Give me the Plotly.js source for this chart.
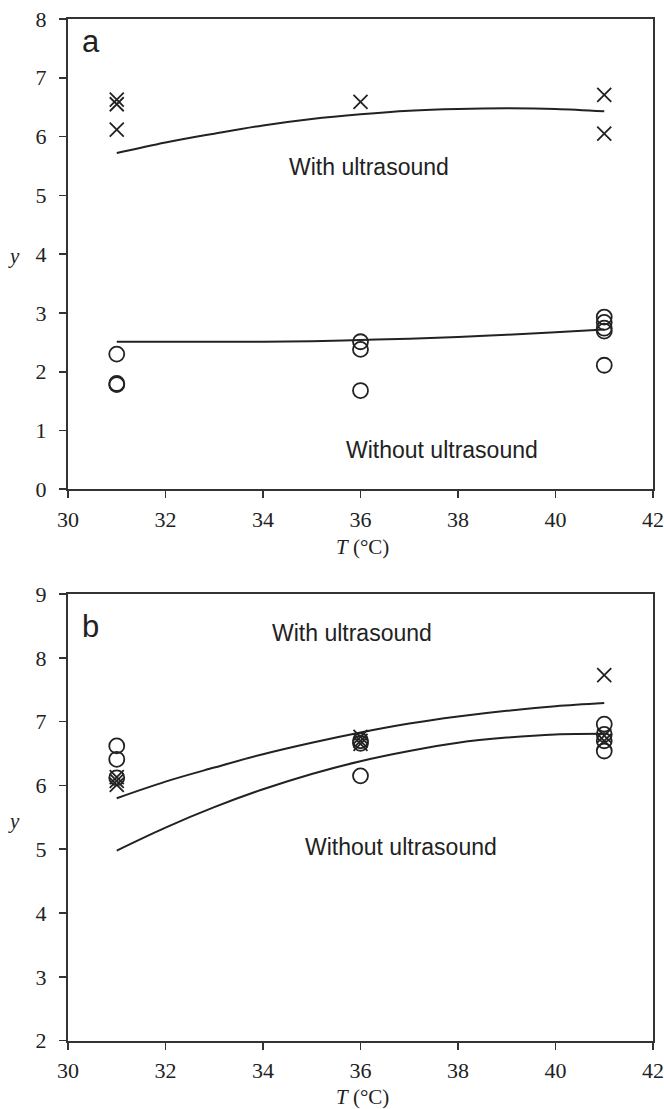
<!DOCTYPE html>
<html>
<head>
<meta charset="utf-8">
<script src="https://cdn.plot.ly/plotly-3.0.1.min.js"></script>
<style>html,body{margin:0;padding:0;background:#fff;}#chart{width:664px;height:1109px;}</style>
</head>
<body>
<div id="chart"></div>
<script>
// ---- Panel a data ----
const aWithT = [31, 31, 31, 36, 41, 41];
const aWithY = [6.63, 6.55, 6.12, 6.59, 6.71, 6.05];
const aWithoutT = [31, 31, 31, 36, 36, 36, 41, 41, 41, 41, 41];
const aWithoutY = [2.30, 1.80, 1.78, 2.51, 2.38, 1.68, 2.93, 2.84, 2.74, 2.69, 2.11];
const aFitT = [31, 32, 33, 34, 35, 36, 37, 38, 39, 40, 41];
const aFitWith = [5.72, 5.90, 6.05, 6.19, 6.30, 6.38, 6.44, 6.47, 6.48, 6.47, 6.43];
const aFitWithout = [2.51, 2.51, 2.51, 2.51, 2.52, 2.54, 2.56, 2.59, 2.63, 2.67, 2.72];

// ---- Panel b data ----
const bWithT = [31, 31, 31, 36, 36, 36, 41, 41, 41];
const bWithY = [6.13, 6.07, 6.01, 6.76, 6.70, 6.65, 7.73, 6.78, 6.70];
const bWithoutT = [31, 31, 31, 36, 36, 36, 41, 41, 41, 41];
const bWithoutY = [6.62, 6.41, 6.12, 6.70, 6.66, 6.15, 6.96, 6.80, 6.70, 6.54];
const bFitT = [31, 32, 33, 34, 35, 36, 37, 38, 39, 40, 41];
const bFitWith = [5.80, 6.06, 6.28, 6.49, 6.67, 6.83, 6.97, 7.08, 7.17, 7.24, 7.29];
const bFitWithout = [4.98, 5.34, 5.66, 5.94, 6.18, 6.38, 6.54, 6.67, 6.75, 6.80, 6.81];

const ink = '#222222';
const crossMarker = {symbol: 'x-thin-open', size: 14, color: ink, line: {color: ink, width: 1.8}};
const circleMarker = {symbol: 'circle-open', size: 15, color: ink, line: {color: ink, width: 1.8}};
const fitLine = {color: ink, width: 2, shape: 'spline'};

const traces = [
  {x: aFitT, y: aFitWith, mode: 'lines', line: fitLine, xaxis: 'x', yaxis: 'y'},
  {x: aFitT, y: aFitWithout, mode: 'lines', line: fitLine, xaxis: 'x', yaxis: 'y'},
  {x: aWithT, y: aWithY, mode: 'markers', marker: crossMarker, xaxis: 'x', yaxis: 'y'},
  {x: aWithoutT, y: aWithoutY, mode: 'markers', marker: circleMarker, xaxis: 'x', yaxis: 'y'},
  {x: bFitT, y: bFitWith, mode: 'lines', line: fitLine, xaxis: 'x2', yaxis: 'y2'},
  {x: bFitT, y: bFitWithout, mode: 'lines', line: fitLine, xaxis: 'x2', yaxis: 'y2'},
  {x: bWithoutT, y: bWithoutY, mode: 'markers', marker: circleMarker, xaxis: 'x2', yaxis: 'y2'},
  {x: bWithT, y: bWithY, mode: 'markers', marker: crossMarker, xaxis: 'x2', yaxis: 'y2'}
];
traces.forEach(t => { t.showlegend = false; t.hoverinfo = 'skip'; });

const W = 664, H = 1109;
const serif = 'Liberation Serif';
const sans = 'Liberation Sans';
function tickFont() { return {family: serif, size: 22, color: '#222222'}; }
function xAxis(anchor) {
  return {
    domain: [68 / W, 653 / W], anchor: anchor, range: [30, 42], dtick: 2, tick0: 30,
    showgrid: false, zeroline: false, showline: true, mirror: true, linecolor: '#333', linewidth: 2,
    ticks: 'outside', ticklen: 7, tickwidth: 1.6, tickcolor: '#333', tickfont: tickFont(), ticklabelstandoff: 2
  };
}
function yAxis(anchor, domain, range) {
  return {
    domain: domain, anchor: anchor, range: range, dtick: 1,
    showgrid: false, zeroline: false, showline: true, mirror: true, linecolor: '#333', linewidth: 2,
    ticks: 'outside', ticklen: 7, tickwidth: 1.6, tickcolor: '#333', tickfont: tickFont(), ticklabelstandoff: 8
  };
}

function pa(text, x, y, font, xanchor) {
  return {text: text, xref: 'paper', yref: 'paper', x: x / W, y: 1 - y / H, showarrow: false,
          xanchor: xanchor || 'left', yanchor: 'middle', font: font};
}
const annFont = {family: sans, size: 23, color: '#222222'};
const lblFont = {family: sans, size: 31, color: '#222222'};
const titleFont = {family: serif, size: 21, color: '#222222'};

const layout = {
  width: W, height: H, margin: {l: 0, r: 0, t: 0, b: 0},
  paper_bgcolor: '#fff', plot_bgcolor: '#fff', showlegend: false,
  xaxis: xAxis('y'),
  yaxis: yAxis('x', [1 - 489.3 / H, 1 - 19 / H], [0, 8]),
  xaxis2: xAxis('y2'),
  yaxis2: yAxis('x2', [1 - 1040.7 / H, 1 - 594 / H], [2, 9]),
  annotations: [
    pa('a', 80, 41, lblFont),
    pa('With ultrasound', 287, 167, annFont),
    pa('Without ultrasound', 344, 450, annFont),
    pa('<i>y</i>', 14, 256, titleFont, 'center'),
    pa('<i>T</i> (°C)', 362, 547, titleFont, 'center'),
    pa('b', 80, 626, lblFont),
    pa('With ultrasound', 270, 633, annFont),
    pa('Without ultrasound', 303, 847, annFont),
    pa('<i>y</i>', 14, 821, titleFont, 'center'),
    pa('<i>T</i> (°C)', 362, 1097, titleFont, 'center')
  ]
};

Plotly.newPlot('chart', traces, layout, {staticPlot: true, displayModeBar: false});
</script>
</body>
</html>
